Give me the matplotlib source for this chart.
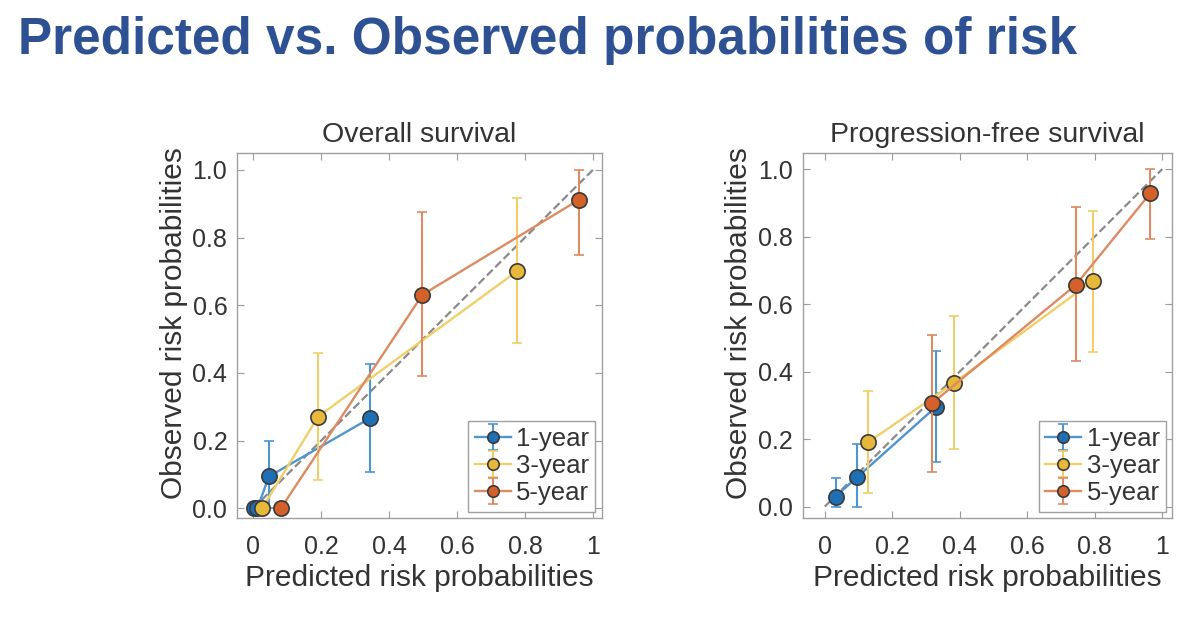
import numpy as np
import matplotlib
matplotlib.use("Agg")
import matplotlib.pyplot as plt

plt.rcParams['font.family'] = ['Liberation Sans', 'DejaVu Sans']

# data
labels = ['1-year', '3-year', '5-year']

os_x = [[0.002, 0.012, 0.046, 0.343],
        [0.026, 0.191, 0.776],
        [0.081, 0.498, 0.958]]
os_y = [[0.0, 0.0, 0.094, 0.266],
        [0.0, 0.271, 0.700],
        [0.0, 0.631, 0.911]]
os_lo = [[0.0, 0.0, 0.0, 0.108],
         [0.0, 0.084, 0.488],
         [0.0, 0.392, 0.749]]
os_hi = [[0.0, 0.0, 0.199, 0.426],
         [0.0, 0.460, 0.916],
         [0.0, 0.875, 1.0]]

pfs_x = [[0.032, 0.096, 0.330],
         [0.128, 0.382, 0.795],
         [0.318, 0.744, 0.965]]
pfs_y = [[0.030, 0.087, 0.296],
         [0.190, 0.366, 0.669],
         [0.306, 0.657, 0.929]]
pfs_lo = [[0.0, 0.0, 0.133],
          [0.040, 0.171, 0.459],
          [0.104, 0.432, 0.792]]
pfs_hi = [[0.086, 0.185, 0.461],
          [0.344, 0.566, 0.877],
          [0.509, 0.887, 1.0]]

face_colors = ['#1f6fb5', '#e8b83a', '#d4602a']
line_colors = ['#4f95cf', '#f0cf6a', '#de8a62']
txt = '#333333'

fig = plt.figure(figsize=(12, 6.19), dpi=100)
fig.text(0.015, 0.935, 'Predicted vs. Observed probabilities of risk',
         fontsize=37, fontweight='bold', color='#2d5193', va='center', ha='left')


def panel(ax, title, xs, ys, los, his, xlim, ylim):
    ax.plot([0, 1], [0, 1], '--', color='#8a8a8a', lw=1.6, zorder=1)
    for i in range(3):
        x = np.array(xs[i])
        y = np.array(ys[i])
        err = [y - np.array(los[i]), np.array(his[i]) - y]
        ax.errorbar(x, y, yerr=err, fmt='-o', color=line_colors[i], lw=1.7,
                    elinewidth=1.5, capsize=3.5, capthick=1.2,
                    markersize=11, markerfacecolor=face_colors[i],
                    markeredgecolor='#3a3a3a', markeredgewidth=1.2,
                    label=labels[i], zorder=2 + i)
    ax.set_xlim(*xlim)
    ax.set_ylim(*ylim)
    ax.set_xticks([0, 0.2, 0.4, 0.6, 0.8, 1.0])
    ax.set_xticklabels(['0', '0.2', '0.4', '0.6', '0.8', '1'])
    ax.set_yticks([0, 0.2, 0.4, 0.6, 0.8, 1.0])
    ax.set_yticklabels(['0.0', '0.2', '0.4', '0.6', '0.8', '1.0'])
    ax.tick_params(direction='in', top=True, right=True, length=5,
                   color='#9a9a9a', labelsize=18, labelcolor=txt)
    ax.tick_params(axis='x', pad=12)
    ax.tick_params(axis='y', pad=7)
    for s in ax.spines.values():
        s.set_color('#a0a0a0')
        s.set_linewidth(1.0)
    ax.set_title(title, fontsize=20.5, color=txt, pad=8)
    ax.set_xlabel('Predicted risk probabilities', fontsize=21.5, color=txt, labelpad=4)
    ax.set_ylabel('Observed risk probabilities', fontsize=21.5, color=txt)
    ax.yaxis.set_label_coords(-0.135, 0.535)
    leg = ax.legend(loc='lower right', fontsize=18.5, markerscale=0.75,
                    handlelength=1.4, handletextpad=0.2, labelspacing=0.12,
                    borderpad=0.25, borderaxespad=0.25, fancybox=False,
                    framealpha=1, edgecolor='#a0a0a0')
    for t in leg.get_texts():
        t.set_color(txt)


ax1 = fig.add_axes([0.1975, 0.163, 0.304, 0.590])
panel(ax1, 'Overall survival', os_x, os_y, os_lo, os_hi, (-0.048, 1.026), (-0.029, 1.05))

ax2 = fig.add_axes([0.669, 0.163, 0.308, 0.590])
panel(ax2, 'Progression-free survival', pfs_x, pfs_y, pfs_lo, pfs_hi, (-0.065, 1.03), (-0.034, 1.048))

fig.savefig('out.png', dpi=100)
